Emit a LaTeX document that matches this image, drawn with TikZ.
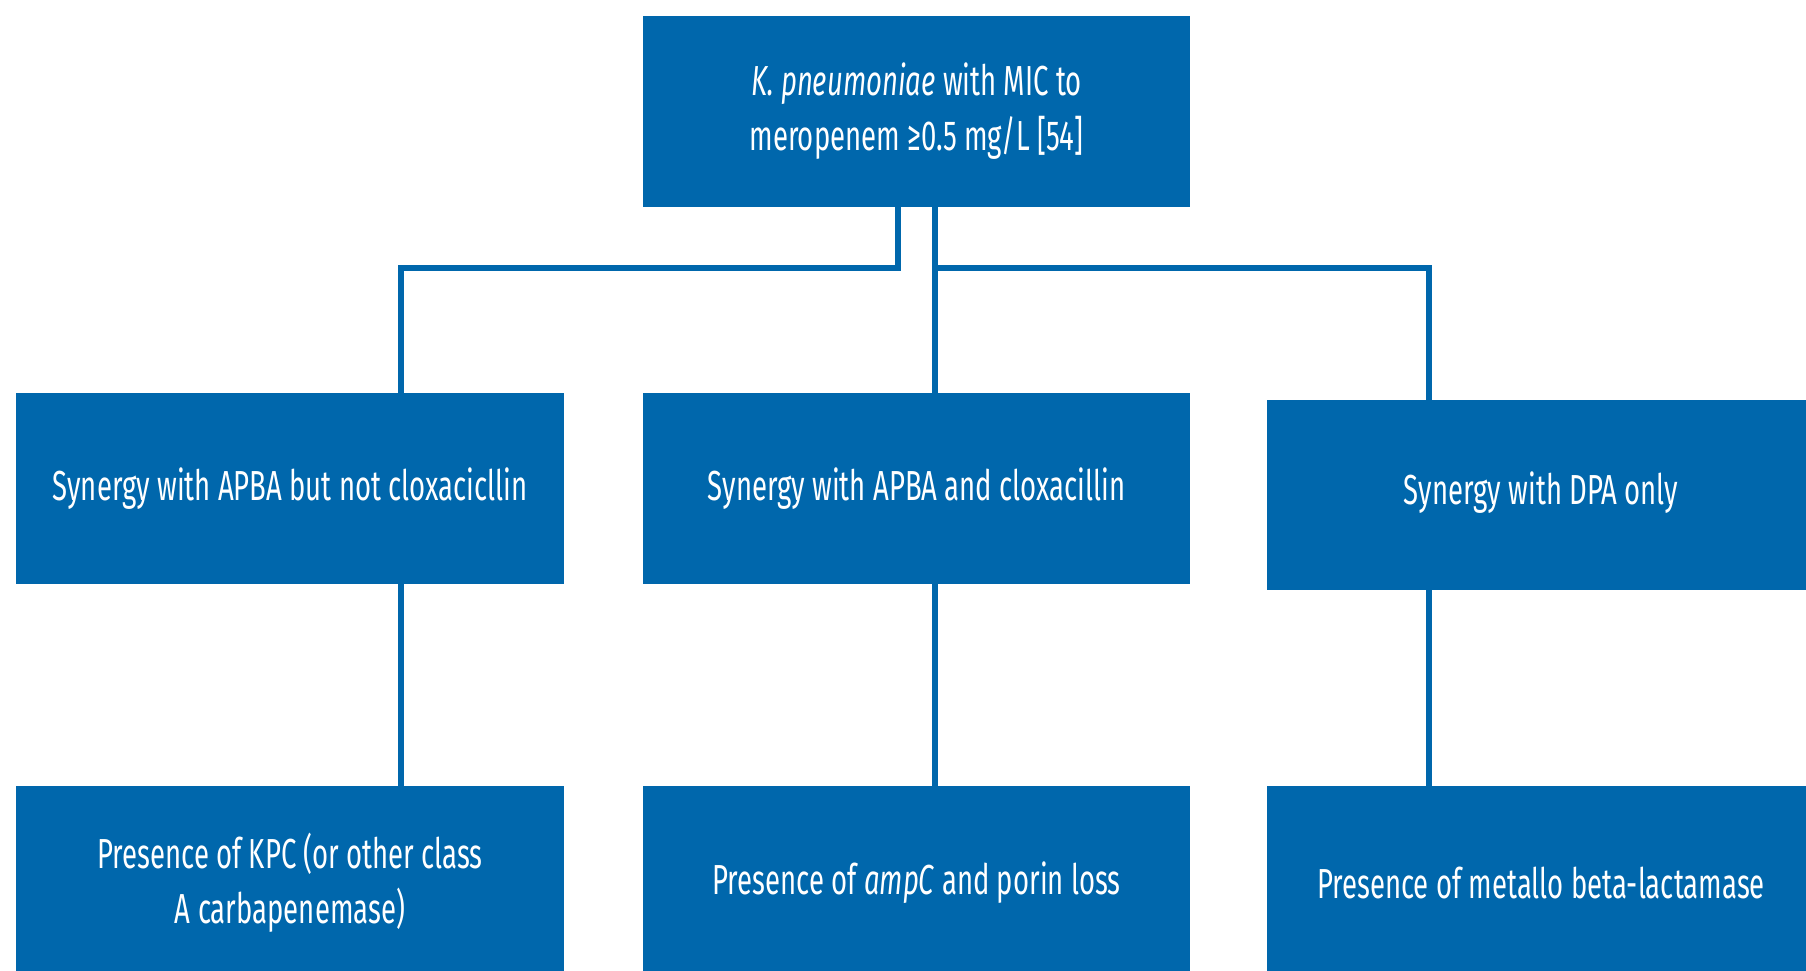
\documentclass[tikz,border=0pt]{standalone}
\usepackage{fontspec}
\setmainfont{Fira Sans}[FakeStretch=0.655]
\usetikzlibrary{calc}
\definecolor{boxblue}{RGB}{0,103,172}
\tikzset{
  box/.style={fill=boxblue, draw=none, text=white, align=center, inner sep=0pt,
    font=\fontsize{42}{55}\selectfont},
  conn/.style={draw=boxblue, line width=6pt, line cap=rect}
}
\begin{document}
\begin{tikzpicture}[x=1pt,y=-1pt]
\clip (0,0) rectangle (1806,971);
\fill[white] (0,0) rectangle (1806,971);
% nodes
\node[box, minimum width=547pt, minimum height=191pt] (top) at (916.5,111.5)
  {\textit{K. pneumoniae} with MIC to\\meropenem ≥0.5 mg/L [54]};
\node[box, minimum width=548pt, minimum height=191pt] (m1) at (290,488.5)
  {Synergy with APBA but not cloxacicllin};
\node[box, minimum width=547pt, minimum height=191pt] (m2) at (916.5,488.5)
  {Synergy with APBA and cloxacillin};
\node[box, minimum width=548pt, minimum height=190pt] (m3) at (1541,495)
  {\raisebox{14pt}{Synergy with DPA only}};
\node[box, minimum width=548pt, minimum height=194pt] (b1) at (290,883)
  {Presence of KPC (or other class\\A carbapenemase)};
\node[box, minimum width=547pt, minimum height=194pt] (b2) at (916.5,883)
  {Presence of \textit{ampC} and porin loss};
\node[box, minimum width=548pt, minimum height=194pt] (b3) at (1541,883)
  {Presence of metallo beta-lactamase};
% junction coordinates
\coordinate (j1) at (898,268);
\coordinate (c1) at (401,268);
\coordinate (j2) at (935,268);
\coordinate (j3) at (1429,268);
% connectors
\draw[conn] (top.south -| j1) -- (j1) -- (c1) -- (m1.north -| c1);
\draw[conn] (top.south -| j2) -- (m2.north -| j2);
\draw[conn] (j2) -- (j3) -- (m3.north -| j3);
\draw[conn] (m1.south -| c1) -- (b1.north -| c1);
\draw[conn] (m2.south -| j2) -- (b2.north -| j2);
\draw[conn] (m3.south -| j3) -- (b3.north -| j3);
\end{tikzpicture}
\end{document}
